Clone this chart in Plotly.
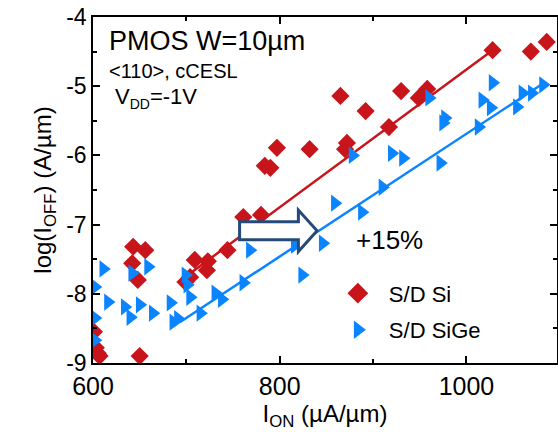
import plotly.graph_objects as go

# ---------------- data ----------------
si_x = [1028, 1069, 1086, 930, 958, 949, 917, 865, 892, 872, 870, 832, 797, 784, 790,
        761, 780, 744, 723, 709, 722, 704, 699, 643, 656, 642, 648, 601, 603, 605, 607, 650]
si_y = [-4.48, -4.50, -4.36, -5.07, -5.04, -5.17, -5.59, -5.14, -5.36, -5.82, -5.91, -5.91, -5.89, -6.15, -6.18,
        -6.89, -6.86, -7.37, -7.53, -7.51, -7.66, -7.76, -7.83, -7.32, -7.37, -7.56, -7.80, -8.55, -8.78, -8.86, -8.90, -8.90]

sige_x = [1082, 1070, 1060, 1028, 1054, 1017, 1026, 960, 977, 975, 1013, 920, 932, 972, 878,
          910, 859, 888, 846, 816, 824, 768, 761, 731, 704, 715, 699, 611, 642, 659,
          701, 602, 616, 634, 650, 640, 664, 683, 686, 691, 738, 602, 602]
sige_y = [-4.98, -5.10, -5.10, -4.95, -5.30, -5.20, -5.31, -5.17, -5.46, -5.53, -5.59, -5.97, -6.04, -6.11, -6.00,
          -6.46, -6.69, -6.82, -7.27, -7.30, -7.73, -7.37, -7.84, -7.99, -8.05, -8.28, -7.73, -7.64, -7.70, -7.61,
          -7.87, -7.90, -8.12, -8.19, -8.16, -8.34, -8.28, -8.13, -8.41, -8.36, -8.08, -8.35, -8.67]

si_fit_x = [693, 1028]
si_fit_y = [-7.815, -4.48]
sige_fit_x = [693, 1082]
sige_fit_y = [-8.41, -4.96]

x_tickvals = [600, 800, 1000]
x_ticktext = ["600", "800", "1000"]
y_tickvals = [-9, -8, -7, -6, -5, -4]
y_ticktext = ["-9", "-8", "-7", "-6", "-5", "-4"]

series_names = ["S/D Si", "S/D SiGe"]

# arrow (data units)
arrow_x0, arrow_xh, arrow_xt = 757, 820, 840
arrow_y, arrow_body, arrow_head = -7.09, 0.13, 0.30

RED = "#C8141B"
BLUE = "#0A84FF"
NAVY = "#244A79"
FONT = "Liberation Sans, Arial, sans-serif"

fig = go.Figure()

fig.add_trace(go.Scatter(x=si_fit_x, y=si_fit_y, mode="lines",
                         line=dict(color=RED, width=2.5), showlegend=False))
fig.add_trace(go.Scatter(x=sige_fit_x, y=sige_fit_y, mode="lines",
                         line=dict(color=BLUE, width=2.5), showlegend=False))
fig.add_trace(go.Scatter(x=si_x, y=si_y, mode="markers", showlegend=False,
                         marker=dict(symbol="diamond", size=14, color=RED, line=dict(width=0))))
fig.add_trace(go.Scatter(x=sige_x, y=sige_y, mode="markers", showlegend=False,
                         marker=dict(symbol="triangle-right", size=15, color=BLUE, line=dict(width=0))))
# legend entries
fig.add_trace(go.Scatter(x=[None], y=[None], mode="markers", name=series_names[0], legendgroup="a",
                         marker=dict(symbol="diamond", size=16, color=RED)))
fig.add_trace(go.Scatter(x=[None], y=[None], mode="markers", name=series_names[1], legendgroup="b",
                         marker=dict(symbol="triangle-right", size=16, color=BLUE)))

# block arrow
path = (f"M{arrow_x0},{arrow_y + arrow_body} L{arrow_xh},{arrow_y + arrow_body} "
        f"L{arrow_xh},{arrow_y + arrow_head} L{arrow_xt},{arrow_y} "
        f"L{arrow_xh},{arrow_y - arrow_head} L{arrow_xh},{arrow_y - arrow_body} "
        f"L{arrow_x0},{arrow_y - arrow_body} Z")
fig.add_shape(type="path", path=path, xref="x", yref="y",
              line=dict(color=NAVY, width=3), fillcolor="white", layer="above")

fig.add_annotation(x=918, y=-7.22, xref="x", yref="y", text="+15%", showarrow=False,
                   font=dict(family=FONT, size=26, color="black"))

fig.add_annotation(x=0.03, y=0.93, xref="paper", yref="paper", xanchor="left", yanchor="middle",
                   text="PMOS W=10µm", showarrow=False, font=dict(family=FONT, size=27, color="black"))
fig.add_annotation(x=0.031, y=0.845, xref="paper", yref="paper", xanchor="left", yanchor="middle",
                   text="&lt;110&gt;, cCESL", showarrow=False, font=dict(family=FONT, size=20, color="black"))
fig.add_annotation(x=0.044, y=0.765, xref="paper", yref="paper", xanchor="left", yanchor="middle",
                   text="V<sub><span style='font-size:14px'>DD</span></sub>=-1V", showarrow=False,
                   font=dict(family=FONT, size=22, color="black"))

axis_common = dict(showline=True, linecolor="black", linewidth=1.5, mirror="ticks",
                   ticks="inside", ticklen=7, tickwidth=1.5, tickcolor="black",
                   showgrid=False, zeroline=False, automargin=False, ticklabeloverflow="allow")

fig.update_xaxes(range=[600, 1097], tickvals=x_tickvals, ticktext=x_ticktext,
                 tickfont=dict(family=FONT, size=25, color="black"),
                 minor=dict(dtick=100, tick0=600, ticks="inside", ticklen=4, tickwidth=1.5, tickcolor="black"),
                 title=dict(text="I<sub>ON</sub> (µA/µm)", font=dict(family=FONT, size=24, color="black"), standoff=2),
                 **axis_common)
fig.update_yaxes(range=[-9, -4], tickvals=y_tickvals, ticktext=y_ticktext,
                 tickfont=dict(family=FONT, size=23, color="black"),
                 minor=dict(dtick=0.5, tick0=-9, ticks="inside", ticklen=4, tickwidth=1.5, tickcolor="black"),
                 title=dict(text="log(I<sub>OFF</sub>) (A/µm)", font=dict(family=FONT, size=24, color="black"), standoff=8),
                 **axis_common)

fig.update_layout(
    width=558, height=432,
    margin=dict(l=93, r=1, t=17, b=69),
    plot_bgcolor="white", paper_bgcolor="white",
    legend=dict(x=0.504, y=0.262, xanchor="left", yanchor="top", itemwidth=52,
                font=dict(family=FONT, size=22, color="black"), bgcolor="rgba(0,0,0,0)",
                tracegroupgap=5),
)

# remove the browser's default 8px body margin so the figure sits at the window origin
fig.write_html("out.html", config={"displayModeBar": False},
               post_script="document.body.style.margin='0';document.body.style.overflow='hidden';")
